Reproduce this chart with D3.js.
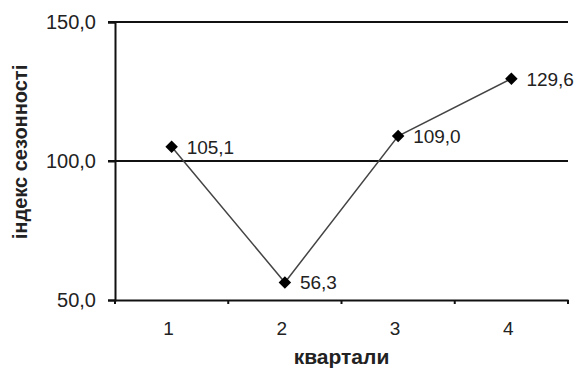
<!DOCTYPE html>
<html>
<head>
<meta charset="utf-8">
<script src="https://cdn.jsdelivr.net/npm/d3@7"></script>
<style>
  body { margin: 0; background: #fff; }
  text { font-family: "Liberation Sans", Arial, sans-serif; fill: #222; }
</style>
</head>
<body>
<svg width="582" height="384"></svg>
<script>
const width = 582;
const height = 384;

// дані
const quarters = ["1", "2", "3", "4"];
const seasonIndex = [105.1, 56.3, 109.0, 129.6];
const yTicks = [50, 100, 150];

const margin = { top: 22, right: 14, bottom: 84, left: 115 };

const fmt = v => d3.format(".1f")(v).replace(".", ",");

let x = d3
  .scaleBand()
  .domain(quarters)
  .range([margin.left, width - margin.right]);

let y = d3
  .scaleLinear()
  .domain([50, 150])
  .range([height - margin.bottom, margin.top]);

const svg = d3.select("svg");

// горизонтальні лінії сітки
svg.append("g")
  .selectAll("line")
  .data(yTicks.filter(d => d > 50))
  .join("line")
  .attr("x1", margin.left - 7)
  .attr("x2", width - margin.right)
  .attr("y1", d => y(d))
  .attr("y2", d => y(d))
  .attr("stroke", "#111")
  .attr("stroke-width", 2);

// вісь Y
const yAxis = svg.append("g")
  .attr("transform", `translate(${margin.left},0)`)
  .call(d3.axisLeft(y).tickValues(yTicks).tickFormat(fmt).tickSize(7).tickPadding(12));
yAxis.select(".domain").attr("stroke", "#111").attr("stroke-width", 2);
yAxis.selectAll(".tick line").attr("stroke", "#111").attr("stroke-width", 2);
yAxis.selectAll("text").style("font-size", "20px").attr("fill", "#333");

// вісь X
const xAxis = svg.append("g")
  .attr("transform", `translate(0,${height - margin.bottom})`)
  .call(d3.axisBottom(x).tickSize(0).tickPadding(22));
xAxis.select(".domain").attr("stroke", "#111").attr("stroke-width", 2);
xAxis.selectAll("text").style("font-size", "19px").attr("fill", "#333").attr("dx", "-3");

// поділки між кварталами
svg.append("g")
  .selectAll("line")
  .data(quarters.concat([null]))
  .join("line")
  .attr("x1", (d, i) => margin.left + i * x.step())
  .attr("x2", (d, i) => margin.left + i * x.step())
  .attr("y1", height - margin.bottom)
  .attr("y2", height - margin.bottom + 4)
  .attr("stroke", "#111")
  .attr("stroke-width", 2);

const pts = quarters.map((q, i) => [x(q) + x.bandwidth() / 2, y(seasonIndex[i])]);

let line = d3.line();

svg.append("path")
  .attr("d", line(pts))
  .attr("fill", "none")
  .attr("stroke", "#444")
  .attr("stroke-width", 1.5);

svg.append("g")
  .selectAll("path")
  .data(pts)
  .join("path")
  .attr("transform", d => `translate(${d[0]},${d[1]})`)
  .attr("d", d3.symbol(d3.symbolDiamond2, 100))
  .attr("fill", "#000");

svg.append("g")
  .selectAll("text")
  .data(pts)
  .join("text")
  .attr("x", d => d[0] + 15)
  .attr("y", d => d[1])
  .attr("dy", "0.36em")
  .style("font-size", "19px")
  .text((d, i) => fmt(seasonIndex[i]));

// назви осей
svg.append("text")
  .attr("x", margin.left + (width - margin.right - margin.left) / 2)
  .attr("y", 364)
  .attr("text-anchor", "middle")
  .style("font-size", "21px")
  .style("font-weight", "bold")
  .attr("fill", "#111")
  .text("квартали");

svg.append("text")
  .attr("transform", "translate(27,152) rotate(-90)")
  .attr("text-anchor", "middle")
  .style("font-size", "20px")
  .style("font-weight", "bold")
  .attr("fill", "#111")
  .text("індекс сезонності");
</script>
</body>
</html>
